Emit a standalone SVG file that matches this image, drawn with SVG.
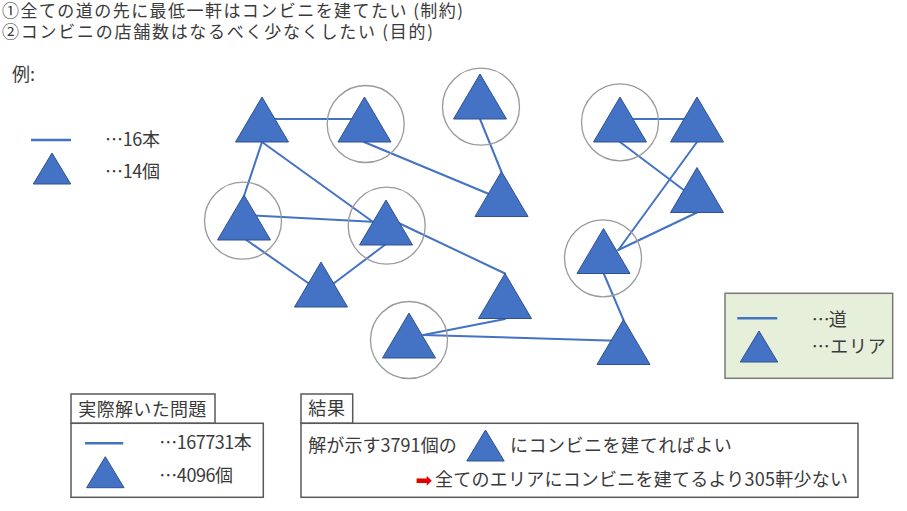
<svg xmlns="http://www.w3.org/2000/svg" xmlns:xlink="http://www.w3.org/1999/xlink" width="907" height="511" viewBox="0 0 907 511">
<style>
text{font-family:"Noto Sans CJK JP","Liberation Sans",sans-serif;font-size:18px;fill:#3a3a3a}
.hd{font-size:17px}
.edge{stroke:#4472C4;stroke-width:2;fill:none;stroke-linecap:round}
.leg{stroke:#4472C4;stroke-width:2.5}
.tri{fill:#4472C4;stroke:#2F528F;stroke-width:1}
.ring{fill:none;stroke:#9a9a9a;stroke-width:1.3}
.box{fill:#fff;stroke:#595959;stroke-width:1.5}
.gbox{fill:#E6EFDA;stroke:#7a7a7a;stroke-width:1.5}
</style>
<defs>
<path id="tri" class="tri" d="M0,0 L26.5,45 L-26.5,45 Z"/>
<path id="stri" class="tri" d="M0,0 L18.7,31 L-18.7,31 Z"/>
</defs>
<rect width="907" height="511" fill="#fff"/>

<g id="header">
<text class="hd" x="2" y="16.5" textLength="461">①全ての道の先に最低一軒はコンビニを建てたい (制約)</text>
<text class="hd" x="2" y="38" textLength="431">②コンビニの店舗数はなるべく少なくしたい (目的)</text>
</g>

<g id="legend-example">
<text x="12" y="81">例:</text>
<line class="leg" x1="31" y1="140" x2="71" y2="140"/>
<use xlink:href="#stri" x="52" y="153"/>
<text x="105" y="146" textLength="55">…16本</text>
<text x="105" y="178" textLength="55">…14個</text>
</g>

<g id="connectors">
<line class="edge" x1="262" y1="119" x2="364" y2="119"/>
<line class="edge" x1="262" y1="142" x2="244" y2="196"/>
<line class="edge" x1="262" y1="142" x2="387" y2="232"/>
<line class="edge" x1="244" y1="215" x2="386" y2="222.5"/>
<line class="edge" x1="245" y1="239" x2="321" y2="292"/>
<line class="edge" x1="386" y1="244" x2="321" y2="293"/>
<line class="edge" x1="386" y1="217" x2="505" y2="273.5"/>
<line class="edge" x1="364" y1="142" x2="501" y2="199"/>
<line class="edge" x1="480" y1="119" x2="501.5" y2="172"/>
<line class="edge" x1="620" y1="119" x2="697" y2="119"/>
<line class="edge" x1="620" y1="142" x2="697" y2="200"/>
<line class="edge" x1="697" y1="142" x2="618.3" y2="250"/>
<line class="edge" x1="697" y1="212.5" x2="618.3" y2="250"/>
<line class="edge" x1="603.5" y1="273" x2="623.5" y2="320"/>
<line class="edge" x1="423.3" y1="335" x2="505" y2="319"/>
<line class="edge" x1="423.3" y1="335" x2="624" y2="341"/>
</g>

<g id="n1"><use xlink:href="#tri" x="262" y="97"/></g>
<g id="n2"><circle class="ring" cx="365.7" cy="124" r="38.5"/><use xlink:href="#tri" x="364.5" y="97"/></g>
<g id="n3"><circle class="ring" cx="481" cy="106.7" r="38.5"/><use xlink:href="#tri" x="480" y="74"/></g>
<g id="n4"><use xlink:href="#tri" x="501.5" y="171.5"/></g>
<g id="n5"><circle class="ring" cx="243" cy="220.7" r="38.5"/><use xlink:href="#tri" x="244" y="195"/></g>
<g id="n6"><circle class="ring" cx="386.7" cy="225.7" r="38.5"/><use xlink:href="#tri" x="386" y="200"/></g>
<g id="n7"><circle class="ring" cx="620" cy="122.3" r="38.5"/><use xlink:href="#tri" x="620" y="97"/></g>
<g id="n8"><use xlink:href="#tri" x="697" y="97"/></g>
<g id="n9"><use xlink:href="#tri" x="697" y="167.5"/></g>
<g id="n10"><circle class="ring" cx="603" cy="258.3" r="38.5"/><use xlink:href="#tri" x="603.5" y="228.5"/></g>
<g id="n11"><use xlink:href="#tri" x="623.5" y="319.5"/></g>
<g id="n12"><use xlink:href="#tri" x="321" y="262"/></g>
<g id="n13"><use xlink:href="#tri" x="505" y="273.5"/></g>
<g id="n14"><circle class="ring" cx="409" cy="340" r="38.5"/><use xlink:href="#tri" x="409" y="313"/></g>

<g id="legend-right">
<rect class="gbox" x="725" y="293.3" width="167.7" height="85"/>
<line class="leg" x1="737.3" y1="318.3" x2="777.3" y2="318.3"/>
<use xlink:href="#stri" x="759" y="331"/>
<text x="811.7" y="326" textLength="35">…道</text>
<text x="811.7" y="353" textLength="74">…エリア</text>
</g>

<g id="actual-problem">
<rect class="box" x="71" y="394" width="144" height="29.3"/>
<rect class="box" x="71" y="423.3" width="192.3" height="74"/>
<text x="78.3" y="415.5" textLength="128">実際解いた問題</text>
<line class="leg" x1="85" y1="443.3" x2="123.3" y2="443.3"/>
<use xlink:href="#stri" x="105.3" y="456.7"/>
<text x="159.3" y="449" textLength="92.4">…167731本</text>
<text x="159.3" y="481.5" textLength="73.7">…4096個</text>
</g>

<g id="result">
<rect class="box" x="301" y="394" width="51.7" height="29.3"/>
<rect class="box" x="301" y="423.3" width="557" height="74"/>
<text x="308.3" y="414.5" textLength="36.7">結果</text>
<text x="308.3" y="451.5" textLength="148.4">解が示す3791個の</text>
<use xlink:href="#stri" x="485.5" y="430"/>
<text x="510" y="451.5" textLength="221.7">にコンビニを建てればよい</text>
<text x="415.5" y="487" style="font-family:'DejaVu Sans',sans-serif;font-size:20px;fill:#E00000">➡</text>
<text x="435" y="485.5" textLength="413">全てのエリアにコンビニを建てるより305軒少ない</text>
</g>
</svg>
